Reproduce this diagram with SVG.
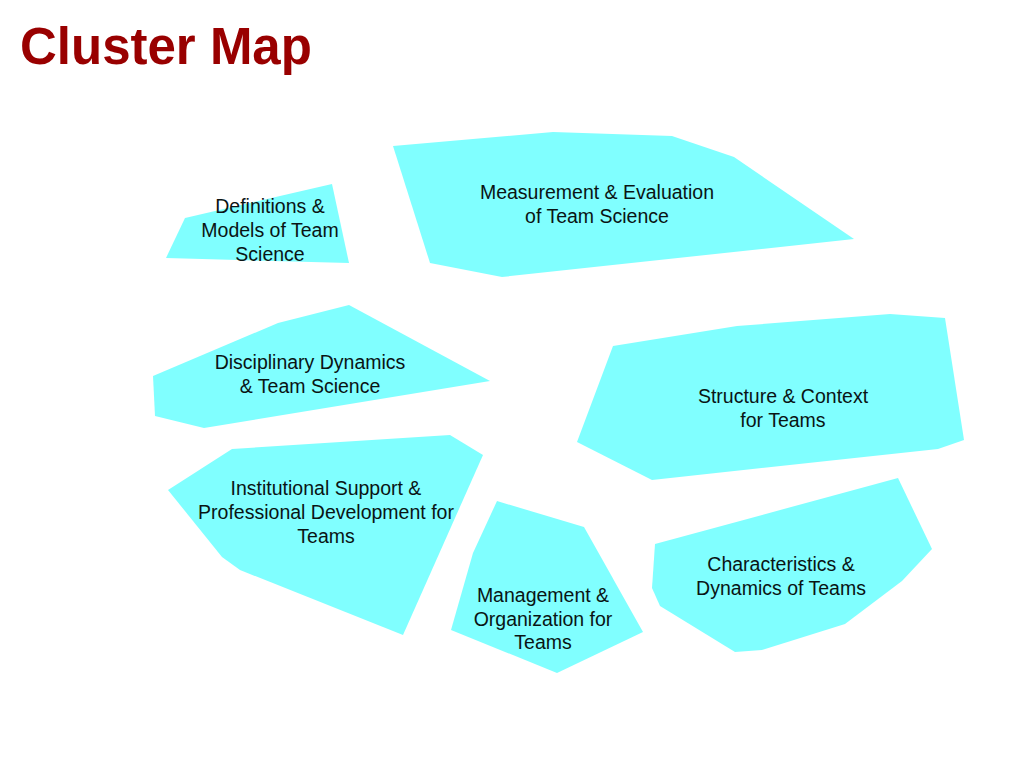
<svg xmlns="http://www.w3.org/2000/svg" width="1024" height="768" viewBox="0 0 1024 768">
<style>
.blob{fill:#80FFFF;stroke:none}
.lbl{font-family:"Liberation Sans",Arial,sans-serif;font-size:19.5px;fill:#0a1414;text-anchor:middle}
.title{font-family:"Liberation Sans",Arial,sans-serif;font-size:51px;font-weight:bold;fill:#990000}
</style>
<rect width="1024" height="768" fill="#ffffff"/>
<text class="title" x="20" y="64">Cluster Map</text>
<g id="connectors"></g>
<g id="definitions">
<polygon class="blob" points="166,258 185,218 332,184 349,263"/>
<text class="lbl" x="270" y="213">Definitions &amp;</text>
<text class="lbl" x="270" y="237">Models of Team</text>
<text class="lbl" x="270" y="261">Science</text>
</g>
<g id="measurement">
<polygon class="blob" points="393,146 553,132 672,136 734,157 854,239 502,277 430,263"/>
<text class="lbl" x="597" y="199">Measurement &amp; Evaluation</text>
<text class="lbl" x="597" y="223">of Team Science</text>
</g>
<g id="disciplinary">
<polygon class="blob" points="153,376 278,323 349,305 490,381 204,428 155,416"/>
<text class="lbl" x="310" y="369">Disciplinary Dynamics</text>
<text class="lbl" x="310" y="393">&amp; Team Science</text>
</g>
<g id="structure">
<polygon class="blob" points="613,346 737,326 890,314 945,318 964,440 938,449 652,480 577,442"/>
<text class="lbl" x="783" y="403">Structure &amp; Context</text>
<text class="lbl" x="783" y="427">for Teams</text>
</g>
<g id="institutional">
<polygon class="blob" points="168,490 232,449 450,435 483,455 403,635 240,570 222,557"/>
<text class="lbl" x="326" y="495">Institutional Support &amp;</text>
<text class="lbl" x="326" y="519">Professional Development for</text>
<text class="lbl" x="326" y="543">Teams</text>
</g>
<g id="management">
<polygon class="blob" points="497,501 584,527 643,632 557,673 451,630 473,553"/>
<text class="lbl" x="543" y="602">Management &amp;</text>
<text class="lbl" x="543" y="626">Organization for</text>
<text class="lbl" x="543" y="649">Teams</text>
</g>
<g id="characteristics">
<polygon class="blob" points="655,544 898,478 932,549 902,581 845,624 762,650 735,652 660,606 652,588"/>
<text class="lbl" x="781" y="571">Characteristics &amp;</text>
<text class="lbl" x="781" y="595">Dynamics of Teams</text>
</g>
</svg>
